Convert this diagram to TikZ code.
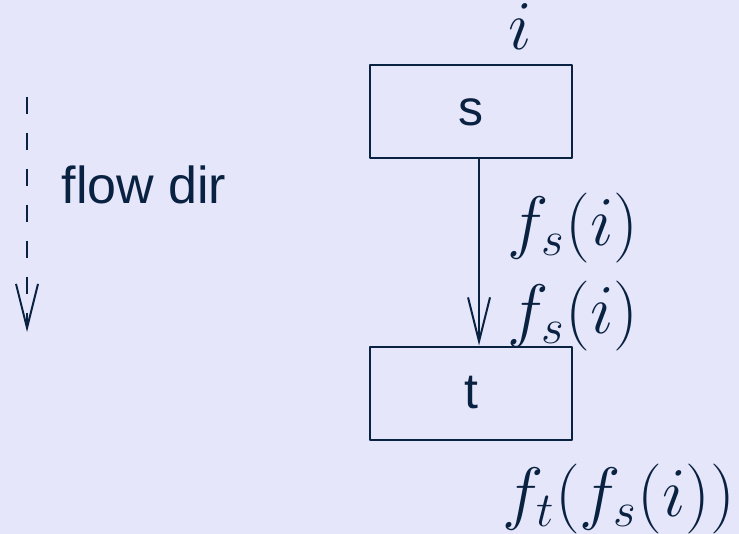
\documentclass[tikz,border=0pt]{standalone}
\usepackage{fix-cm}
\usepackage{fontspec}
\setmainfont{Liberation Sans}
\usetikzlibrary{arrows.meta}
\definecolor{slidebg}{HTML}{E6E6FA}
\definecolor{ink}{HTML}{0A2241}
\tikzset{
  blockbox/.style={draw=ink, line width=1pt, minimum width=101pt, minimum height=46.5pt, inner sep=0pt, text=ink, font=\fontsize{25}{30}\selectfont},
  lbl/.style={text=ink, inner sep=0pt, font=\fontsize{26}{31}\selectfont},
  mathlbl/.style={text=ink, inner sep=0pt, font=\fontsize{35}{42}\selectfont},
  flowtip/.style={-{Straight Barb[length=22pt, width=11pt, line width=1pt]}}
}
\begin{document}
\begin{tikzpicture}[x=0.5pt, y=-0.5pt, line join=round]
		% Nền và khung
		\fill[slidebg] (0,0) rectangle (739,534);
		\useasboundingbox (0,0) rectangle (739,534);
		
		% Hướng dòng chảy (nét đứt)
		\coordinate (flowtop) at (27,97);
		\coordinate (flowend) at (27,332);
		\draw[ink, line width=1pt, dash pattern=on 8.5pt off 9.5pt, flowtip] (flowtop) -- (flowend);
		\node[lbl] (flowlbl) at (144,185) {flow dir};
		
		% Các khối s và t
		\node[blockbox] (s) at (471,112) {s};
		\node[blockbox] (t) at (471,393) {t};
		
		% Mũi tên nối
		\draw[ink, line width=1pt, flowtip] ([xshift=4pt]s.south) -- ([xshift=4pt]t.north);
		
		% Gán nhãn
		\node[mathlbl, anchor=base] (inlbl) at (520,50) {$i$};
		\node[mathlbl] (outs) at (573,228) {$f_s(i)$};
		\node[mathlbl] (ins) at (573,316) {$f_s(i)$};
		\node[mathlbl] (outt) at (619,499) {$f_t(f_s(i))$};
		\end{tikzpicture}
\end{document}
